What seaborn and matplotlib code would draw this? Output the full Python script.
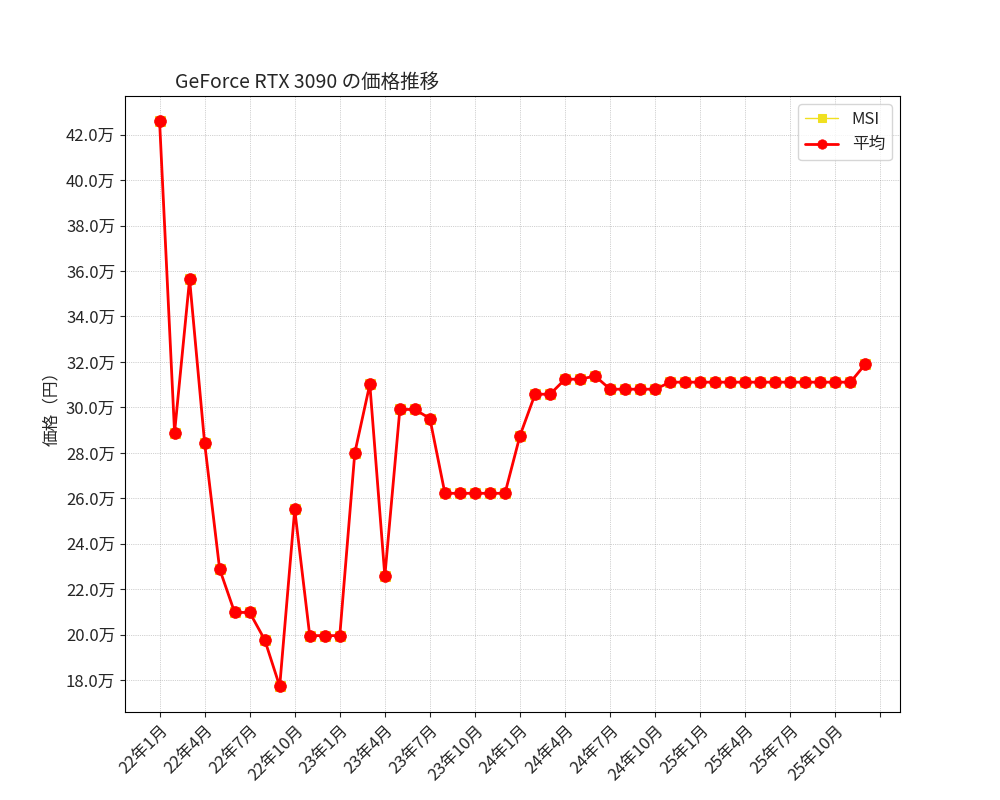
import numpy as np
import pandas as pd
import matplotlib
matplotlib.use("Agg")
import matplotlib.pyplot as plt
import seaborn as sns
from matplotlib.ticker import FuncFormatter

# データ (万円)
price_man = [42.62, 28.89, 35.64, 28.44, 22.89, 20.98, 20.98, 19.78, 17.73, 25.51,
             19.96, 19.96, 19.96, 28.0, 31.02, 22.58, 29.91, 29.91, 29.51, 26.22,
             26.22, 26.22, 26.22, 26.22, 28.76, 30.58, 30.58, 31.24, 31.24, 31.38,
             30.8, 30.8, 30.8, 30.8, 31.11, 31.11, 31.11, 31.11, 31.11, 31.11,
             31.11, 31.11, 31.11, 31.11, 31.11, 31.11, 31.11, 31.91]
tick_labels = ["22年1月", "22年4月", "22年7月", "22年10月", "23年1月", "23年4月",
               "23年7月", "23年10月", "24年1月", "24年4月", "24年7月", "24年10月",
               "25年1月", "25年4月", "25年7月", "25年10月", ""]

df = pd.DataFrame({"idx": np.arange(len(price_man)),
                   "price": np.array(price_man) * 10000})

sns.set_style("ticks")
plt.rcParams['font.family'] = ['Noto Sans CJK JP', 'DejaVu Sans']

fig, ax = plt.subplots(figsize=(10, 8), dpi=100)
sns.lineplot(data=df, x="idx", y="price", ax=ax, color="#f0e020", marker="s",
             markersize=7, linewidth=1, markeredgecolor="#f0e020", label="MSI")
sns.lineplot(data=df, x="idx", y="price", ax=ax, color="red", marker="o",
             markersize=8.5, linewidth=2, markeredgecolor="red",
             markeredgewidth=0.5, label="平均")

ax.set_xticks(np.arange(0, 49, 3))
ax.set_xticklabels(tick_labels, rotation=45, ha="right", rotation_mode="anchor",
                   fontsize=12)
ax.set_xlim(-2.3, 49.3)
ax.set_ylim(166000, 437000)
ax.set_yticks(np.arange(180000, 430000, 20000))
ax.yaxis.set_major_formatter(FuncFormatter(lambda v, p: f"{v/10000:.1f}万"))
ax.tick_params(axis="y", labelsize=12)
ax.set_xlabel("")
ax.set_ylabel("価格（円）", fontsize=12)
ax.grid(True, linestyle=":", linewidth=0.5, color="gray", alpha=0.7)
ax.set_title("GeForce RTX 3090 の価格推移", loc="left", x=0.065, fontsize=14)
ax.legend(loc="upper right", fontsize=12, markerscale=0.8)
for s in ax.spines.values():
    s.set_visible(True)
    s.set_color("black")

plt.subplots_adjust(left=0.125, right=0.9, top=0.88, bottom=0.11)
fig.savefig("out.png")
